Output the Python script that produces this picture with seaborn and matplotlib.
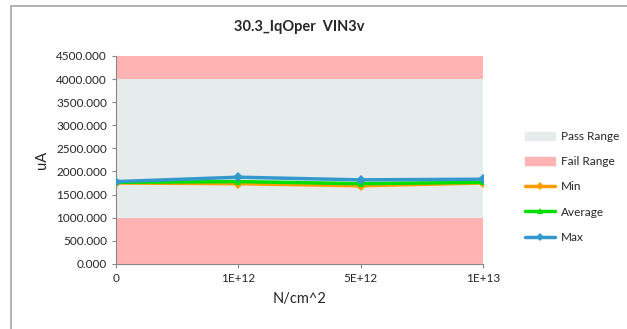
import numpy as np
import pandas as pd
import seaborn as sns
import matplotlib.pyplot as plt
from matplotlib.patches import Rectangle, Patch
from matplotlib.lines import Line2D

categories = ['0', '1E+12', '5E+12', '1E+13']
min_vals = [1750, 1735, 1690, 1750]
avg_vals = [1765, 1780, 1735, 1765]
max_vals = [1780, 1875, 1818, 1832]
pass_low, pass_high = 1000, 4000
y_top = 4500

sns.set_style('white')
plt.rcParams['font.family'] = ['Lato', 'DejaVu Sans']

df = pd.DataFrame({'x': categories, 'Min': min_vals, 'Average': avg_vals, 'Max': max_vals})
long = df.melt(id_vars='x', var_name='series', value_name='uA')
long['pos'] = long['x'].map({c: i for i, c in enumerate(categories)})

fig = plt.figure(figsize=(6.27, 3.29), dpi=100)
ax = fig.add_axes([0.185, 0.198, 0.585, 0.632])

# range bands
ax.axhspan(0, pass_low, color='#FFB3B3', lw=0, zorder=0)
ax.axhspan(pass_low, pass_high, color='#E6EBEB', lw=0, zorder=0)
ax.axhspan(pass_high, y_top, color='#FFB3B3', lw=0, zorder=0)

colors = {'Min': '#FF9C00', 'Average': '#00E000', 'Max': '#3398CC'}
markers = {'Min': 'D', 'Average': '^', 'Max': 'D'}
for s in ['Min', 'Average', 'Max']:
    d = long[long['series'] == s]
    sns.lineplot(data=d, x='pos', y='uA', color=colors[s], marker=markers[s],
                 markersize=5, markeredgewidth=0, linewidth=2.5, ax=ax, zorder=3)

ax.set_xlim(0, len(categories) - 1)
ax.set_ylim(0, y_top)
ax.set_xticks(range(len(categories)))
ax.set_xticklabels(categories, fontsize=8.5)
ax.set_yticks(np.arange(0, y_top + 1, 500))
ax.set_yticklabels([f'{v:.3f}' for v in np.arange(0, y_top + 1, 500)], fontsize=8.5)
ax.tick_params(axis='both', length=3, color='#888888', direction='out', bottom=True, left=True)
for sp in ['top', 'right']:
    ax.spines[sp].set_visible(False)
for sp in ['left', 'bottom']:
    ax.spines[sp].set_color('#888888')
    ax.spines[sp].set_linewidth(0.8)
ax.set_xlabel('N/cm^2', fontsize=10.5, labelpad=6)
ax.set_ylabel('uA', fontsize=10.5, labelpad=5)
ax.set_title('30.3_IqOper  VIN3v', fontsize=10.5, fontweight='bold', pad=18)

handles = [Patch(color='#E6EBEB'), Patch(color='#FFB3B3'),
           Line2D([], [], color=colors['Min'], lw=2.5, marker='D', ms=4, mew=0),
           Line2D([], [], color=colors['Average'], lw=2.5, marker='^', ms=5, mew=0),
           Line2D([], [], color=colors['Max'], lw=2.5, marker='D', ms=4, mew=0)]
ax.legend(handles, ['Pass Range', 'Fail Range', 'Min', 'Average', 'Max'],
          loc='center left', bbox_to_anchor=(1.085, 0.37), frameon=False,
          fontsize=8.5, labelspacing=1.2, handlelength=2.6, handletextpad=0.5)

fig.patches.append(Rectangle((11 / 627, -0.1), 1.2, 1 - 6 / 329 + 0.1,
                             transform=fig.transFigure, fill=False,
                             edgecolor='#A6A6A6', lw=1.2))

fig.savefig('out.png', dpi=100)
